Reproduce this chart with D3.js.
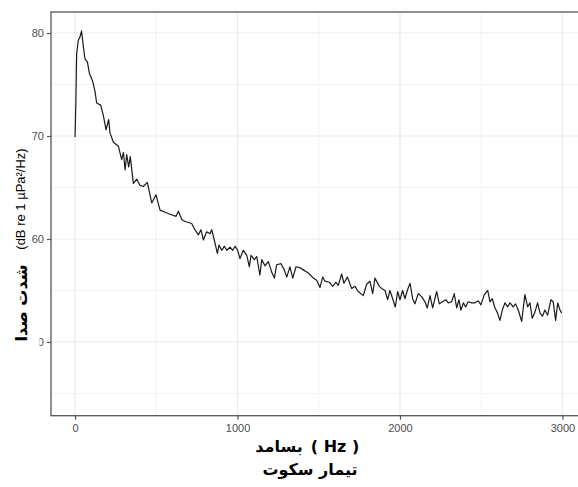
<!DOCTYPE html>
<html>
<head>
<meta charset="utf-8">
<script src="https://cdn.jsdelivr.net/npm/d3@7"></script>
<style>
    body { margin: 0; background: #fff; }
    svg { display: block; }
</style>
</head>
<body>
<div id="chart"></div>
<script>
// frequency (Hz) and level (dB re 1 uPa^2/Hz)
const freq = [0, 5, 10, 20, 30, 40, 51, 61, 76, 88, 109, 123, 133, 158, 174, 191, 207, 215, 236, 267,
    287, 298, 308, 318, 330, 340, 359, 380, 400, 420, 445, 472, 498, 523, 554, 585, 622, 636, 657, 677,
    698, 718, 738, 759, 775, 790, 810, 831, 841, 857, 876, 886, 903, 919, 934, 954, 970, 985, 1001, 1015,
    1036, 1057, 1073, 1083, 1104, 1118, 1138, 1149, 1169, 1190, 1210, 1227, 1241, 1268, 1288, 1303, 1323, 1340, 1360, 1385,
    1405, 1436, 1467, 1487, 1508, 1524, 1538, 1565, 1586, 1606, 1620, 1641, 1655, 1676, 1703, 1723, 1743, 1774, 1795, 1815,
    1832, 1846, 1873, 1887, 1908, 1924, 1938, 1955, 1971, 1986, 2000, 2016, 2031, 2045, 2062, 2078, 2092, 2113, 2133, 2154,
    2168, 2185, 2201, 2226, 2242, 2262, 2283, 2297, 2318, 2334, 2349, 2363, 2375, 2390, 2404, 2420, 2441, 2462, 2482, 2498,
    2519, 2540, 2554, 2568, 2585, 2601, 2615, 2630, 2646, 2663, 2677, 2697, 2712, 2728, 2749, 2769, 2786, 2800, 2814, 2831,
    2847, 2862, 2877, 2892, 2909, 2929, 2943, 2958, 2971, 2985, 2995];
const level = [69.9, 73.3, 78.0, 79.3, 79.6, 80.2, 78.7, 77.5, 77.2, 76.1, 75.3, 74.3, 73.2, 73.0, 72.0, 70.6, 71.6, 70.3, 69.4, 69.0,
    67.7, 68.4, 66.7, 68.2, 67.0, 68.0, 65.4, 65.8, 65.2, 65.1, 65.5, 63.5, 64.3, 62.8, 62.6, 62.4, 62.2, 62.7, 61.9, 61.7,
    61.6, 61.5, 60.9, 60.4, 60.9, 59.9, 60.7, 60.5, 60.9, 59.9, 58.6, 59.4, 58.9, 59.3, 58.9, 59.2, 58.9, 59.3, 58.9, 58.1,
    58.9, 58.4, 57.3, 58.4, 58.0, 58.3, 56.5, 58.0, 57.4, 57.8, 56.8, 56.2, 57.5, 57.6, 57.0, 56.3, 57.3, 56.2, 57.3, 57.2,
    57.0, 56.7, 56.2, 56.0, 55.3, 56.3, 55.9, 55.8, 55.4, 55.8, 55.5, 56.6, 55.7, 56.3, 55.2, 55.4, 54.9, 54.5, 55.6, 55.9,
    54.7, 56.2, 55.4, 55.2, 55.0, 54.1, 55.0, 54.2, 53.4, 54.9, 54.1, 55.0, 54.2, 55.0, 55.7, 54.2, 53.7, 54.7, 54.4, 53.9,
    53.3, 54.5, 53.3, 54.9, 53.7, 53.9, 54.1, 53.8, 53.9, 54.7, 53.3, 54.1, 53.1, 53.8, 53.4, 53.9, 53.8, 53.8, 54.0, 53.6,
    54.6, 55.0, 53.9, 54.2, 53.3, 52.8, 52.1, 53.1, 53.8, 53.4, 53.8, 53.4, 53.7, 53.1, 52.0, 54.6, 53.4, 53.8, 52.3, 52.9,
    53.8, 52.8, 52.5, 53.1, 52.6, 54.1, 53.9, 52.1, 53.8, 53.1, 52.8];

const xLimits = [-148, 3145];
const yLimits = [42.84, 82.04];
const xMajor = [0, 1000, 2000, 3000];
const xMinor = [500, 1500, 2500];
const yMajor = [50, 60, 70, 80];
const yMinor = [45, 55, 65, 75];

// x title is set as two pieces so bidi can't flip them
const xTitleFa = "بسامد";
const xTitleUnit = "( Hz )";
const plotTitle = "تیمار سکوت";
const yTitleFa = "شدت صدا";
const yTitleUnit = "(dB re 1 µPa²/Hz)";

SpectrumChart = function(_parentElement) {
    this.parentElement = _parentElement;
    this.initVis();
}

SpectrumChart.prototype.initVis = function() {
    let vis = this;

    vis.width = 578;
    vis.height = 487;
    vis.panel = { left: 51, top: 12, right: 586, bottom: 415.7 };

    vis.svg = d3.select("#" + vis.parentElement)
        .append("svg")
        .attr("width", vis.width)
        .attr("height", vis.height);

    vis.x = d3.scaleLinear().domain(xLimits).range([vis.panel.left, vis.panel.right]);
    vis.y = d3.scaleLinear().domain(yLimits).range([vis.panel.bottom, vis.panel.top]);

    vis.updateVis();
}

SpectrumChart.prototype.updateVis = function() {
    let vis = this;
    let p = vis.panel;

    // grid
    vis.svg.selectAll(".vminor").data(xMinor).enter().append("line")
        .attr("x1", d => vis.x(d)).attr("x2", d => vis.x(d))
        .attr("y1", p.top).attr("y2", p.bottom)
        .attr("stroke", "#f2f2f2").attr("stroke-width", 1);
    vis.svg.selectAll(".hminor").data(yMinor).enter().append("line")
        .attr("y1", d => vis.y(d)).attr("y2", d => vis.y(d))
        .attr("x1", p.left).attr("x2", p.right)
        .attr("stroke", "#f2f2f2").attr("stroke-width", 1);
    vis.svg.selectAll(".vmajor").data(xMajor).enter().append("line")
        .attr("x1", d => vis.x(d)).attr("x2", d => vis.x(d))
        .attr("y1", p.top).attr("y2", p.bottom)
        .attr("stroke", "#ebebeb").attr("stroke-width", 1.2);
    vis.svg.selectAll(".hmajor").data(yMajor).enter().append("line")
        .attr("y1", d => vis.y(d)).attr("y2", d => vis.y(d))
        .attr("x1", p.left).attr("x2", p.right)
        .attr("stroke", "#ebebeb").attr("stroke-width", 1.2);

    // spectrum line
    let line = d3.line()
        .x((d, i) => vis.x(freq[i]))
        .y(d => vis.y(d));
    vis.svg.append("path")
        .datum(level)
        .attr("d", line)
        .attr("fill", "none")
        .attr("stroke", "#1a1a1a")
        .attr("stroke-width", 1.2)
        .attr("stroke-linejoin", "round");

    // panel border
    vis.svg.append("rect")
        .attr("x", p.left).attr("y", p.top)
        .attr("width", p.right - p.left).attr("height", p.bottom - p.top)
        .attr("fill", "none").attr("stroke", "#555").attr("stroke-width", 1.3);

    // axes
    let xAxis = d3.axisBottom(vis.x).tickValues(xMajor).tickFormat(d3.format("d")).tickSize(4).tickPadding(5);
    let yAxis = d3.axisLeft(vis.y).tickValues(yMajor).tickFormat(d3.format("d")).tickSize(4).tickPadding(3);

    let gx = vis.svg.append("g")
        .attr("transform", "translate(0," + p.bottom + ")")
        .call(xAxis);
    let gy = vis.svg.append("g")
        .attr("transform", "translate(" + p.left + ",0)")
        .call(yAxis);
    [gx, gy].forEach(g => {
        g.select(".domain").remove();
        g.selectAll(".tick line").attr("stroke", "#555").attr("stroke-width", 1.2);
        g.selectAll(".tick text")
            .attr("fill", "#4d4d4d")
            .attr("font-family", "Liberation Sans, Arial, sans-serif")
            .attr("font-size", 11);
    });

    // titles
    let bold = (sel) => sel
        .attr("text-anchor", "middle")
        .attr("font-family", "DejaVu Sans, sans-serif")
        .attr("font-weight", "bold")
        .attr("font-size", 16)
        .attr("fill", "#000");

    vis.svg.append("text").attr("x", 279).attr("y", 452).call(bold).text(xTitleFa);
    vis.svg.append("text").attr("x", 335).attr("y", 452).call(bold).text(xTitleUnit);
    vis.svg.append("text").attr("x", 310).attr("y", 475).call(bold).text(plotTitle);

    // pasted persian part covers the "5" of the 50 label
    vis.svg.append("rect")
        .attr("x", 4).attr("y", 260)
        .attr("width", 35.5).attr("height", 90)
        .attr("fill", "#fff");
    vis.svg.append("text")
        .attr("transform", "translate(27,303) rotate(-90)")
        .call(bold)
        .text(yTitleFa);
    vis.svg.append("text")
        .attr("transform", "translate(25,199) rotate(-90)")
        .attr("text-anchor", "middle")
        .attr("font-family", "Liberation Sans, Arial, sans-serif")
        .attr("font-size", 13)
        .attr("fill", "#000")
        .text(yTitleUnit);
}

new SpectrumChart("chart");
</script>
</body>
</html>
